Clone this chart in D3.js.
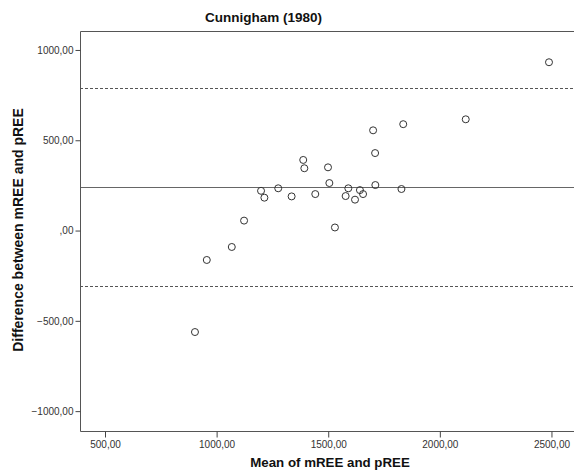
<!DOCTYPE html>
<html><head><meta charset="utf-8">
<script src="https://cdn.jsdelivr.net/npm/d3@7"></script>
<style>body{margin:0;background:#fff;}svg{display:block;font-family:"Liberation Sans",Arial,sans-serif;}</style>
</head><body><svg id="c" width="574" height="474"></svg>
<script>
const meanVals = [903,956,1068,1123,1199,1214,1276,1336,1388,1393,1442,1499,1505,1530,1578,1590,1620,1642,1656,1701,1710,1711,1828,1836,2116,2489];
const diffVals = [-562,-163,-91,55,220,182,234,189,391,345,202,350,263,17,191,234,171,224,202,555,429,252,230,589,616,932];
const xTicks = [500,1000,1500,2000,2500];
const yTicks = [-1000,-500,0,500,1000];
const refLines = [{v:242,dash:false},{v:789,dash:true},{v:-305,dash:true}];
const title = "Cunnigham (1980)";
const xTitle = "Mean of mREE and pREE";
const yTitle = "Difference between mREE and pREE";

const svg = d3.select("#c");
const L=80,R=574,T=31,B=431;
const x = d3.scaleLinear().domain([388,2601]).range([L,R]);
const y = d3.scaleLinear().domain([-1110,1105]).range([B,T]);
const fmt = v => v===0 ? ",00" : d3.format(".2f")(v).replace(".",",");

const g = svg.append("g");
refLines.forEach(r=>{
  g.append("line").attr("x1",L).attr("x2",R).attr("y1",Math.round(y(r.v))+0.5).attr("y2",Math.round(y(r.v))+0.5)
   .attr("stroke", r.dash?"#555":"#666").attr("stroke-width",1)
   .attr("stroke-dasharray", r.dash?"3,2":null);
});
g.selectAll("circle").data(meanVals.map((m,i)=>[m,diffVals[i]])).enter().append("circle")
 .attr("cx",d=>x(d[0])).attr("cy",d=>y(d[1])).attr("r",3.5)
 .attr("fill","none").attr("stroke","#333").attr("stroke-width",1);

svg.append("path").attr("d",`M${R+1},${T+0.5}H${L+0.5}V${B+0.5}H${R+1}`).attr("fill","none").attr("stroke","#555").attr("stroke-width",1);

const ya = svg.append("g").attr("transform",`translate(${L+0.5},0)`)
  .call(d3.axisLeft(y).tickValues(yTicks).tickFormat(fmt).tickSize(5).tickPadding(2));
ya.select(".domain").remove();
ya.selectAll("line").attr("stroke","#444");
ya.selectAll("text").attr("font-size","10px").attr("fill","#333").attr("font-family","Liberation Sans, Arial, sans-serif");
const xa = svg.append("g").attr("transform",`translate(0,${B+0.5})`)
  .call(d3.axisBottom(x).tickValues(xTicks).tickFormat(fmt).tickSize(6).tickPadding(3));
xa.select(".domain").remove();
xa.selectAll("line").attr("stroke","#444");
xa.selectAll("text").attr("font-size","10px").attr("fill","#333").attr("font-family","Liberation Sans, Arial, sans-serif");

svg.append("text").attr("x",263.5).attr("y",22).attr("text-anchor","middle")
 .attr("font-size","13.5px").attr("font-weight","bold").attr("fill","#111").text(title);
svg.append("text").attr("x",330).attr("y",467).attr("text-anchor","middle")
 .attr("font-size","13.3px").attr("font-weight","bold").attr("fill","#111").text(xTitle);
svg.append("text").attr("transform","translate(23,230) rotate(-90)").attr("text-anchor","middle")
 .attr("font-size","14px").attr("font-weight","bold").attr("fill","#111").text(yTitle);
</script></body></html>
